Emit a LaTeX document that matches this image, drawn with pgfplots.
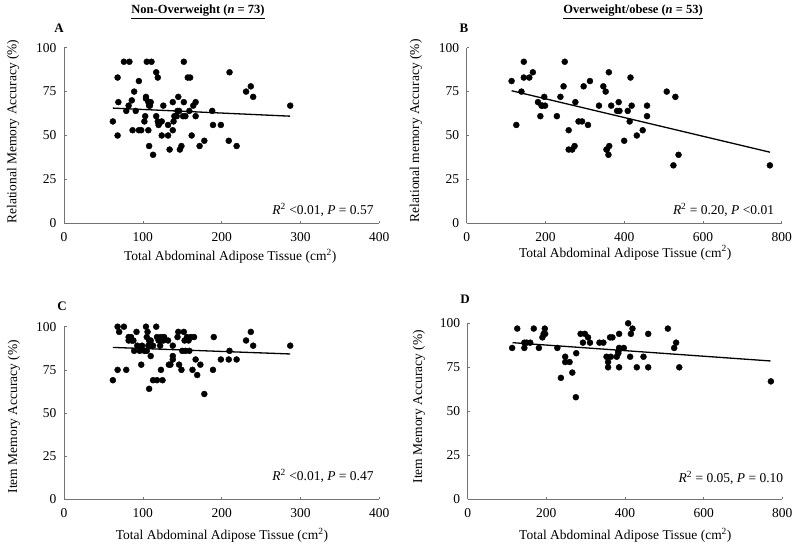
\documentclass[border=0pt]{standalone}
\usepackage{pgfplots}
\pgfplotsset{compat=1.18}
\usepackage{fontspec}
\setmainfont{Liberation Serif}
\newcommand\fs[1]{\fontsize{#1}{#1}\selectfont}
\pgfplotsset{
  panel/.style={
    scale only axis, axis x line=bottom, axis y line=left,
    axis line style={-, draw=black!55, line width=0.8pt},
    tick style={draw=black!55, line width=0.6pt},
    tick align=inside, major tick length=2.5pt,
    ymin=0, ymax=100, ytick={0,25,50,75,100}, xmin=0, clip=false,
    ticklabel style={font=\fs{13.5}},
    /pgf/number format/assume math mode=true,
    yticklabel style={xshift=-4pt},
    xticklabel style={yshift=-6pt},
    every axis y label/.style={rotate=90, anchor=center, font=\fs{13.5}},
    every axis x label/.style={anchor=center, font=\fs{13.5}},
  },
  dots/.style={only marks, mark=*, mark size=3pt, black},
  fit/.style={black, line width=1.3pt, no marks},
}
\begin{document}
\begin{tikzpicture}
\path[use as bounding box] (0pt,0pt) rectangle (800pt,549pt);

\node[font=\bfseries\fs{12.5}] at (198pt,537pt) {\underline{Non-Overweight (\textit{n} = 73)}};
\node[font=\bfseries\fs{12.5}] at (633pt,537pt) {\underline{Overweight/obese (\textit{n} = 53)}};
\node[font=\bfseries\fs{13}] at (59pt,521pt) {A};
\node[font=\bfseries\fs{13}] at (464pt,521pt) {B};
\node[font=\bfseries\fs{13}] at (62pt,243pt) {C};
\node[font=\bfseries\fs{13}] at (465pt,250pt) {D};

% Panel A
\begin{axis}[panel, at={(64pt,325.7pt)}, anchor=south west,
  width=315.3pt, height=175.6pt, xmax=400, xtick={0,100,200,300,400},
  ylabel={Relational Memory Accuracy (\%)},
  ylabel style={at={(axis description cs:-0.161,0.522)}},
  xlabel={Total Abdominal Adipose Tissue (cm\textsuperscript{2})},
  xlabel style={at={(axis description cs:0.527,-0.19)}}]
\addplot[dots] coordinates {
(62,58) (68,83) (68,50) (69,69) (76,92) (83,92) (79,64) (82,67) (86,70) (87,53)
(89,75) (91,64) (95,81) (95,53) (98,53) (102,58) (103,61) (104,72) (104,71) (105,92)
(107,69) (107,53) (108,67) (108,44) (109,67) (110,69) (111,92) (113,39) (117,86) (119,83)
(117,61) (119,58) (120,56) (124,58) (124,50) (126,67) (132,56) (132,50) (134,42) (138,69)
(138,53) (139,58) (140,61) (143,61) (145,72) (146,64) (147,42) (149,44) (152,92) (152,69)
(151,61) (154,61) (157,83) (160,83) (159,64) (162,50) (164,67) (167,69) (167,61) (172,44)
(178,47) (188,64) (189,56) (199,56) (209,47) (210,86) (219,44) (231,75) (237,78) (240,72)
(287,67) (121,57) (144,64)};
\addplot[fit] coordinates {(62,65.6) (287,61)};
\node[anchor=east, font=\fs{13.5}] at (rel axis cs:0.993,0.076) {\textit{R}\textsuperscript{2} <0.01, \textit{P} = 0.57};
\end{axis}

% Panel B
\begin{axis}[panel, at={(466.7pt,325.7pt)}, anchor=south west,
  width=315pt, height=175.6pt, xmax=800, xtick={0,200,400,600,800},
  ylabel={Relational memory Accuracy (\%)},
  ylabel style={at={(axis description cs:-0.161,0.527)}},
  xlabel={Total Abdominal Adipose Tissue (cm\textsuperscript{2})},
  xlabel style={at={(axis description cs:0.503,-0.168)}}]
\addplot[dots] coordinates {
(114,81) (126,56) (139,75) (145,92) (145,83) (159,83) (168,86) (181,69) (187,61) (192,67)
(197,72) (199,67) (229,61) (238,72) (246,78) (249,92) (259,53) (259,42) (268,42) (274,44)
(276,69) (284,58) (293,58) (297,78) (308,56) (313,81) (336,67) (347,78) (353,75) (356,42)
(360,39) (362,44) (361,86) (367,67) (382,64) (386,69) (388,64) (400,47) (409,64) (414,58)
(416,83) (419,67) (432,50) (447,53) (458,67) (458,61) (508,75) (525,33) (530,72) (538,39)
(770,33) (355,42) (190,67)};
\addplot[fit] coordinates {(114,75.5) (770,40.5)};
\node[anchor=east, font=\fs{13.5}] at (rel axis cs:0.987,0.076) {\textit{R}\textsuperscript{2} = 0.20, \textit{P} <0.01};
\end{axis}

% Panel C
\begin{axis}[panel, at={(64pt,49.7pt)}, anchor=south west,
  width=315.3pt, height=172.6pt, xmax=400, xtick={0,100,200,300,400},
  ylabel={Item Memory Accuracy (\%)},
  ylabel style={at={(axis description cs:-0.159,0.479)}},
  xlabel={Total Abdominal Adipose Tissue (cm\textsuperscript{2})},
  xlabel style={at={(axis description cs:0.501,-0.207)}}]
\addplot[dots] coordinates {
(62,69) (68,100) (70,97) (68,75) (76,100) (79,75) (82,94) (85,94) (82,92) (86,92)
(89,86) (92,97) (93,89) (96,86) (98,78) (99,89) (102,86) (104,100) (106,97) (105,94)
(107,89) (108,92) (108,64) (113,69) (118,69) (125,69) (110,83) (113,89) (117,100) (118,94)
(120,92) (122,89) (123,94) (126,92) (127,94) (123,75) (132,92) (133,78) (135,78) (138,89)
(138,83) (138,81) (144,94) (145,97) (146,78) (149,75) (150,86) (152,97) (153,92) (154,86)
(156,94) (158,92) (159,86) (161,94) (163,75) (165,94) (167,81) (169,72) (173,78) (178,61)
(189,75) (190,94) (199,81) (209,81) (210,86) (219,81) (231,92) (237,97) (240,89) (287,89)
(88,92) (110,92) (105,86)};
\addplot[fit] coordinates {(62,88) (287,84.2)};
\node[anchor=east, font=\fs{13.5}] at (rel axis cs:0.993,0.137) {\textit{R}\textsuperscript{2} <0.01, \textit{P} = 0.47};
\end{axis}

% Panel D
\begin{axis}[panel, at={(467.7pt,49.7pt)}, anchor=south west,
  width=314.6pt, height=176pt, xmax=800, xtick={0,200,400,600,800},
  ylabel={Item Memory Accuracy (\%)},
  ylabel style={at={(axis description cs:-0.155,0.526)}},
  xlabel={Total Abdominal Adipose Tissue (cm\textsuperscript{2})},
  xlabel style={at={(axis description cs:0.501,-0.203)}}]
\addplot[dots] coordinates {
(113,86) (126,97) (144,89) (144,86) (159,89) (168,97) (181,86) (190,92) (193,94) (196,97)
(197,94) (228,86) (237,69) (248,81) (248,78) (259,78) (266,72) (276,83) (275,58) (287,94)
(293,89) (298,94) (306,92) (311,89) (335,89) (345,89) (362,92) (368,92) (353,81) (357,78)
(357,75) (364,81) (379,81) (383,83) (385,86) (385,94) (385,75) (397,86) (408,100) (413,81)
(415,94) (430,75) (419,97) (447,81) (459,94) (459,75) (509,97) (525,86) (530,89) (538,75)
(771,67) (150,89) (383,84)};
\addplot[fit] coordinates {(114,89) (770,78.6)};
\node[anchor=east, font=\fs{13.5}] at (rel axis cs:1.014,0.121) {\textit{R}\textsuperscript{2} = 0.05, \textit{P} = 0.10};
\end{axis}
\end{tikzpicture}
\end{document}
